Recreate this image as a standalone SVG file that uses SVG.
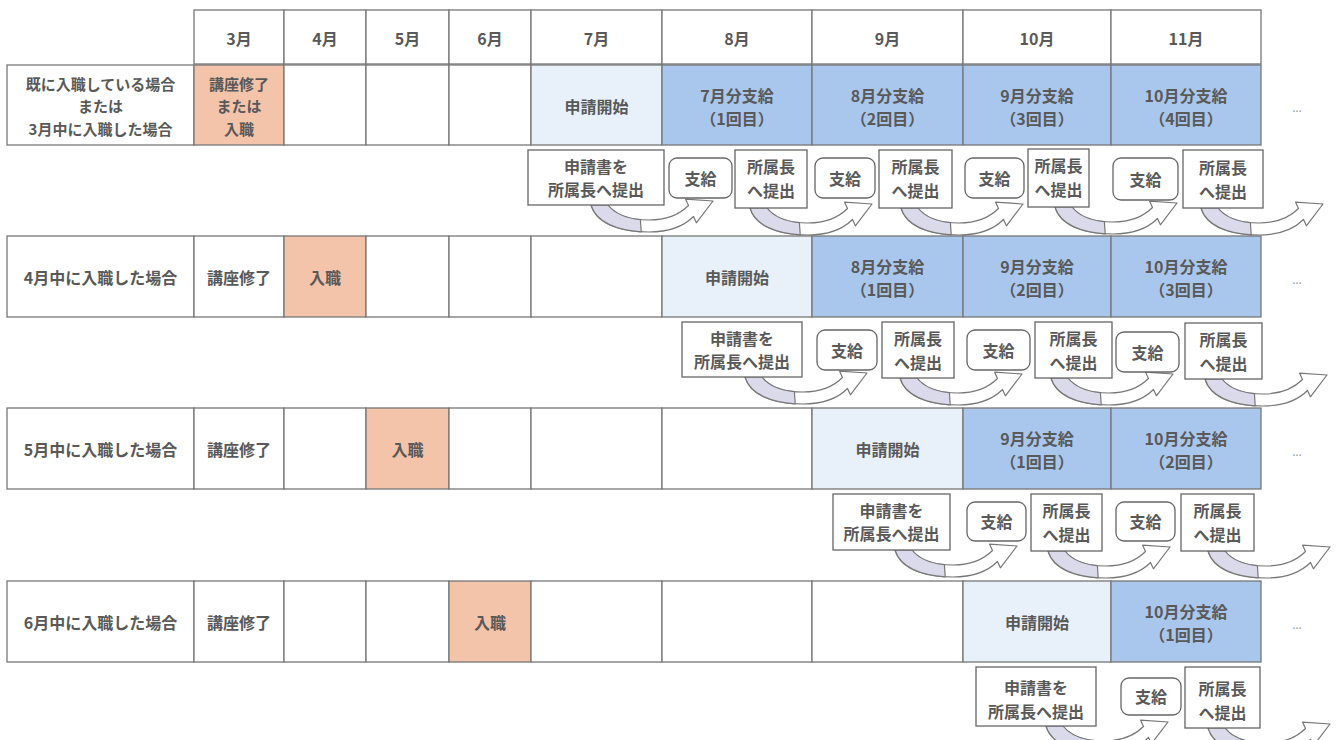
<svg xmlns="http://www.w3.org/2000/svg" xmlns:xlink="http://www.w3.org/1999/xlink" width="1338" height="740" viewBox="0 0 1338 740">
<style>
.t{font-family:"Noto Sans CJK JP","Noto Sans",sans-serif;font-size:16px;font-weight:bold;fill:#595959;text-anchor:middle;dominant-baseline:central}
.s{font-size:15px}
.d{font-family:"Noto Sans",sans-serif;font-size:12px;fill:#999;text-anchor:middle;dominant-baseline:central}
.c{fill:#fff;stroke:#777;stroke-width:1.3}
.pk{fill:#F3C3AA;stroke:#777;stroke-width:1.3}
.lb{fill:#E8F0FA;stroke:#777;stroke-width:1.3}
.bl{fill:#A9C7EC;stroke:#777;stroke-width:1.3}
.bx{fill:#fff;stroke:#666;stroke-width:1.3}
.ab{fill:#fff;stroke:#777;stroke-width:1.2;stroke-linejoin:round}
.as{fill:#DADAEA;stroke:#777;stroke-width:1.2;stroke-linejoin:round}
</style>
<defs>
<g id="arw">
<path class="ab" d="M0,0 C6,20 32,27 58,27 C80,27 94,20 102.5,11.5 L105.4,17.8 L122,-4 L94.6,-5.8 L97.5,0.5 C88,10 74,15 58,15 C38,15 24,9 17,0 Z"/>
<path class="as" d="M0,0 C5.4,18 27,25.47 50.22,26.78 L49.4,14.61 C33.96,13.13 22.95,7.65 17,0 Z"/>
</g>
</defs>
<rect width="1338" height="740" fill="#fff"/>

<g id="header">
<rect class="c" x="194" y="10" width="90" height="54"/>
<rect class="c" x="284" y="10" width="82" height="54"/>
<rect class="c" x="366" y="10" width="83" height="54"/>
<rect class="c" x="449" y="10" width="82" height="54"/>
<rect class="c" x="531" y="10" width="131" height="54"/>
<rect class="c" x="662" y="10" width="150" height="54"/>
<rect class="c" x="812" y="10" width="151" height="54"/>
<rect class="c" x="963" y="10" width="148" height="54"/>
<rect class="c" x="1111" y="10" width="150" height="54"/>
<text class="t" x="239" y="38">3月</text>
<text class="t" x="325" y="38">4月</text>
<text class="t" x="407.5" y="38">5月</text>
<text class="t" x="490" y="38">6月</text>
<text class="t" x="596.5" y="38">7月</text>
<text class="t" x="737" y="38">8月</text>
<text class="t" x="887.5" y="38">9月</text>
<text class="t" x="1037" y="38">10月</text>
<text class="t" x="1186" y="38">11月</text>
</g>

<g id="row1">
<rect class="c" x="7" y="65" width="187" height="80"/>
<rect class="pk" x="194" y="65" width="90" height="80"/>
<rect class="c" x="284" y="65" width="82" height="80"/>
<rect class="c" x="366" y="65" width="83" height="80"/>
<rect class="c" x="449" y="65" width="82" height="80"/>
<rect class="lb" x="531" y="65" width="131" height="80"/>
<rect class="bl" x="662" y="65" width="150" height="80"/>
<rect class="bl" x="812" y="65" width="151" height="80"/>
<rect class="bl" x="963" y="65" width="148" height="80"/>
<rect class="bl" x="1111" y="65" width="150" height="80"/>
<text class="t s" x="100.5" y="83">既に入職している場合</text>
<text class="t s" x="100.5" y="105.5">または</text>
<text class="t s" x="100.5" y="128">3月中に入職した場合</text>
<text class="t s" x="239" y="83">講座修了</text>
<text class="t s" x="239" y="105.5">または</text>
<text class="t s" x="239" y="128">入職</text>
<text class="t" x="596.5" y="106">申請開始</text>
<text class="t" x="737" y="95">7月分支給</text>
<text class="t" x="737" y="118">（1回目）</text>
<text class="t" x="887.5" y="95">8月分支給</text>
<text class="t" x="887.5" y="118">（2回目）</text>
<text class="t" x="1037" y="95">9月分支給</text>
<text class="t" x="1037" y="118">（3回目）</text>
<text class="t" x="1186" y="95">10月分支給</text>
<text class="t" x="1186" y="118">（4回目）</text>
<text class="d" x="1297" y="107">…</text>
</g>

<g id="row2">
<rect class="c" x="7" y="236" width="187" height="81"/>
<rect class="c" x="194" y="236" width="90" height="81"/>
<rect class="pk" x="284" y="236" width="82" height="81"/>
<rect class="c" x="366" y="236" width="83" height="81"/>
<rect class="c" x="449" y="236" width="82" height="81"/>
<rect class="c" x="531" y="236" width="131" height="81"/>
<rect class="lb" x="662" y="236" width="150" height="81"/>
<rect class="bl" x="812" y="236" width="151" height="81"/>
<rect class="bl" x="963" y="236" width="148" height="81"/>
<rect class="bl" x="1111" y="236" width="150" height="81"/>
<text class="t" x="100.5" y="277">4月中に入職した場合</text>
<text class="t" x="239" y="277">講座修了</text>
<text class="t" x="325" y="277">入職</text>
<text class="t" x="737" y="277">申請開始</text>
<text class="t" x="887.5" y="266">8月分支給</text>
<text class="t" x="887.5" y="289">（1回目）</text>
<text class="t" x="1037" y="266">9月分支給</text>
<text class="t" x="1037" y="289">（2回目）</text>
<text class="t" x="1186" y="266">10月分支給</text>
<text class="t" x="1186" y="289">（3回目）</text>
<text class="d" x="1297" y="279">…</text>
</g>

<g id="row3">
<rect class="c" x="7" y="408" width="187" height="81"/>
<rect class="c" x="194" y="408" width="90" height="81"/>
<rect class="c" x="284" y="408" width="82" height="81"/>
<rect class="pk" x="366" y="408" width="83" height="81"/>
<rect class="c" x="449" y="408" width="82" height="81"/>
<rect class="c" x="531" y="408" width="131" height="81"/>
<rect class="c" x="662" y="408" width="150" height="81"/>
<rect class="lb" x="812" y="408" width="151" height="81"/>
<rect class="bl" x="963" y="408" width="148" height="81"/>
<rect class="bl" x="1111" y="408" width="150" height="81"/>
<text class="t" x="100.5" y="449">5月中に入職した場合</text>
<text class="t" x="239" y="449">講座修了</text>
<text class="t" x="407.5" y="449">入職</text>
<text class="t" x="887.5" y="449">申請開始</text>
<text class="t" x="1037" y="438">9月分支給</text>
<text class="t" x="1037" y="461">（1回目）</text>
<text class="t" x="1186" y="438">10月分支給</text>
<text class="t" x="1186" y="461">（2回目）</text>
<text class="d" x="1297" y="451">…</text>
</g>

<g id="row4">
<rect class="c" x="7" y="581" width="187" height="81"/>
<rect class="c" x="194" y="581" width="90" height="81"/>
<rect class="c" x="284" y="581" width="82" height="81"/>
<rect class="c" x="366" y="581" width="83" height="81"/>
<rect class="pk" x="449" y="581" width="82" height="81"/>
<rect class="c" x="531" y="581" width="131" height="81"/>
<rect class="c" x="662" y="581" width="150" height="81"/>
<rect class="c" x="812" y="581" width="151" height="81"/>
<rect class="lb" x="963" y="581" width="148" height="81"/>
<rect class="bl" x="1111" y="581" width="150" height="81"/>
<text class="t" x="100.5" y="622">6月中に入職した場合</text>
<text class="t" x="239" y="622">講座修了</text>
<text class="t" x="490" y="622">入職</text>
<text class="t" x="1037" y="622">申請開始</text>
<text class="t" x="1186" y="611">10月分支給</text>
<text class="t" x="1186" y="634">（1回目）</text>
<text class="d" x="1297" y="624">…</text>
</g>

<g id="connectors">
<use xlink:href="#arw" href="#arw" x="591" y="205"/>
<use xlink:href="#arw" href="#arw" x="750" y="208"/>
<use xlink:href="#arw" href="#arw" x="901" y="208"/>
<use xlink:href="#arw" href="#arw" x="1055" y="207"/>
<use xlink:href="#arw" href="#arw" x="1201" y="208"/>
<use xlink:href="#arw" href="#arw" x="745" y="377"/>
<use xlink:href="#arw" href="#arw" x="900" y="378"/>
<use xlink:href="#arw" href="#arw" x="1051" y="378"/>
<use xlink:href="#arw" href="#arw" x="1205" y="379"/>
<use xlink:href="#arw" href="#arw" x="895" y="550"/>
<use xlink:href="#arw" href="#arw" x="1048" y="551"/>
<use xlink:href="#arw" href="#arw" x="1208" y="551"/>
<use xlink:href="#arw" href="#arw" x="1046" y="726"/>
<use xlink:href="#arw" href="#arw" x="1208" y="728"/>
</g>

<g id="steps1">
<g id="s1-apply"><rect class="bx" x="528" y="150" width="136" height="55"/><text class="t" x="596" y="166">申請書を</text><text class="t" x="596" y="189">所属長へ提出</text></g>
<g id="s1-pay1"><rect class="bx" x="669" y="158" width="63" height="40" rx="8"/><text class="t" x="700.5" y="178">支給</text></g>
<g id="s1-sub2"><rect class="bx" x="735" y="150" width="72" height="58"/><text class="t" x="771" y="166">所属長</text><text class="t" x="771" y="190">へ提出</text></g>
<g id="s1-pay2"><rect class="bx" x="815" y="158" width="60" height="40" rx="8"/><text class="t" x="845" y="178">支給</text></g>
<g id="s1-sub3"><rect class="bx" x="879" y="150" width="73" height="58"/><text class="t" x="915.5" y="166">所属長</text><text class="t" x="915.5" y="190">へ提出</text></g>
<g id="s1-pay3"><rect class="bx" x="965" y="158" width="59" height="40" rx="8"/><text class="t" x="994.5" y="178">支給</text></g>
<g id="s1-sub4"><rect class="bx" x="1028" y="149" width="61" height="58"/><text class="t" x="1058.5" y="165">所属長</text><text class="t" x="1058.5" y="189">へ提出</text></g>
<g id="s1-pay4"><rect class="bx" x="1113" y="158" width="65" height="42" rx="8"/><text class="t" x="1145.5" y="179">支給</text></g>
<g id="s1-sub5"><rect class="bx" x="1183" y="150" width="80" height="58"/><text class="t" x="1223" y="167">所属長</text><text class="t" x="1223" y="191">へ提出</text></g>
</g>

<g id="steps2">
<g id="s2-apply"><rect class="bx" x="682" y="322" width="120" height="55"/><text class="t" x="742" y="338">申請書を</text><text class="t" x="742" y="361">所属長へ提出</text></g>
<g id="s2-pay1"><rect class="bx" x="817" y="330" width="60" height="40" rx="8"/><text class="t" x="847" y="350">支給</text></g>
<g id="s2-sub2"><rect class="bx" x="882" y="322" width="72" height="56"/><text class="t" x="918" y="338">所属長</text><text class="t" x="918" y="362">へ提出</text></g>
<g id="s2-pay2"><rect class="bx" x="967" y="330" width="63" height="40" rx="8"/><text class="t" x="998.5" y="350">支給</text></g>
<g id="s2-sub3"><rect class="bx" x="1035" y="322" width="77" height="56"/><text class="t" x="1073.5" y="338">所属長</text><text class="t" x="1073.5" y="362">へ提出</text></g>
<g id="s2-pay3"><rect class="bx" x="1116" y="332" width="63" height="40" rx="8"/><text class="t" x="1147.5" y="352">支給</text></g>
<g id="s2-sub4"><rect class="bx" x="1185" y="323" width="77" height="56"/><text class="t" x="1223.5" y="339">所属長</text><text class="t" x="1223.5" y="363">へ提出</text></g>
</g>

<g id="steps3">
<g id="s3-apply"><rect class="bx" x="833" y="494" width="117" height="56"/><text class="t" x="891.5" y="510">申請書を</text><text class="t" x="891.5" y="533">所属長へ提出</text></g>
<g id="s3-pay1"><rect class="bx" x="967" y="502" width="59" height="39" rx="8"/><text class="t" x="996.5" y="521">支給</text></g>
<g id="s3-sub2"><rect class="bx" x="1031" y="494" width="71" height="57"/><text class="t" x="1066.5" y="510">所属長</text><text class="t" x="1066.5" y="534">へ提出</text></g>
<g id="s3-pay2"><rect class="bx" x="1116" y="502" width="59" height="39" rx="8"/><text class="t" x="1145.5" y="521">支給</text></g>
<g id="s3-sub3"><rect class="bx" x="1181" y="494" width="73" height="57"/><text class="t" x="1217.5" y="510">所属長</text><text class="t" x="1217.5" y="534">へ提出</text></g>
</g>

<g id="steps4">
<g id="s4-apply"><rect class="bx" x="976" y="667" width="120" height="59"/><text class="t" x="1036" y="687">申請書を</text><text class="t" x="1036" y="711">所属長へ提出</text></g>
<g id="s4-pay1"><rect class="bx" x="1121" y="678" width="60" height="37" rx="8"/><text class="t" x="1151" y="696">支給</text></g>
<g id="s4-sub2"><rect class="bx" x="1185" y="667" width="75" height="61"/><text class="t" x="1222.5" y="688">所属長</text><text class="t" x="1222.5" y="712">へ提出</text></g>
</g>
</svg>
